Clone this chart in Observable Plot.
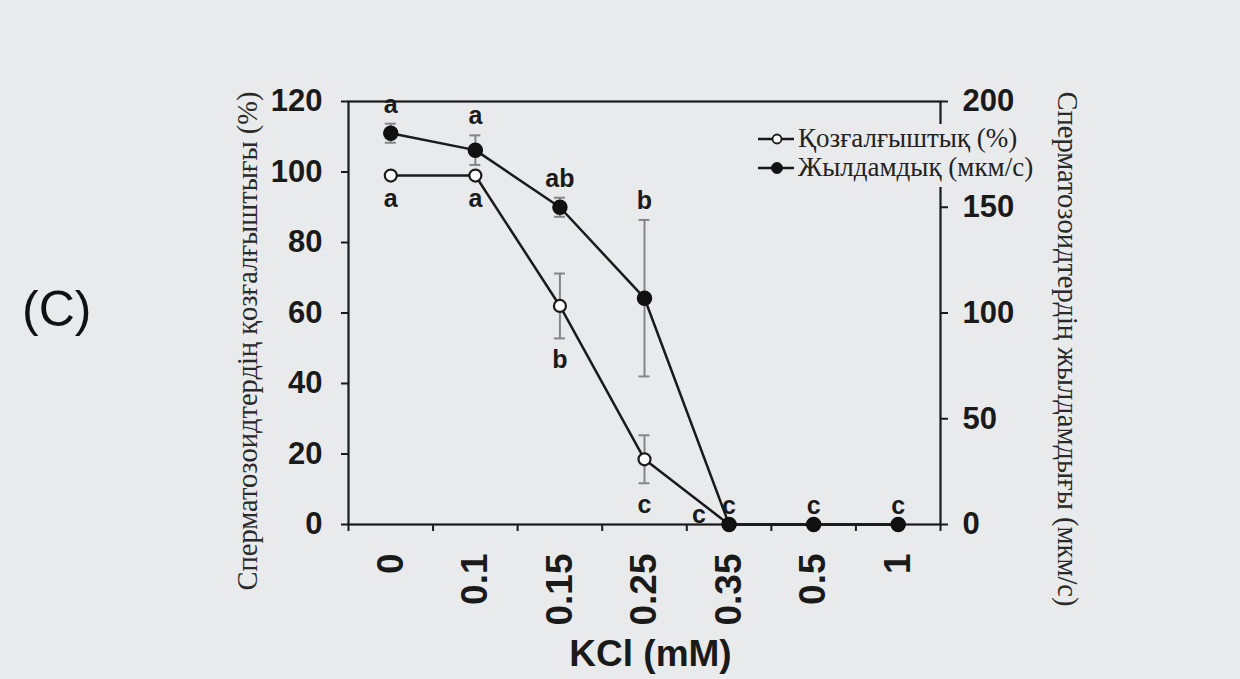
<!DOCTYPE html>
<html><head><meta charset="utf-8">
<script src="https://cdn.jsdelivr.net/npm/d3@7"></script>
<script src="https://cdn.jsdelivr.net/npm/@observablehq/plot@0.6"></script>
<style>
html,body{margin:0;padding:0;background:#e9eaec;}
#wrap{position:relative;width:1240px;height:679px;background:#e9eaec;overflow:hidden;}
#chart{position:absolute;left:0;top:0;}
#panel{position:absolute;left:22px;top:284px;font:50px "Liberation Sans",Arial,sans-serif;color:#111;line-height:1;}
#legend{position:absolute;left:756px;top:124px;width:280px;height:63px;background:#e9eaec;font:27px "Liberation Serif","Times New Roman",serif;color:#222;}
#legend .row{display:flex;align-items:center;height:29px;white-space:nowrap;}
#legend svg{margin-right:2px;flex:none;}
</style></head>
<body><div id="wrap"><div id="chart"></div><div id="panel">(C)</div><div id="legend"></div></div>
<script>
// ---- data ----
const kcl = ["0", "0.1", "0.15", "0.25", "0.35", "0.5", "1"];
const motility = [99, 99, 62, 18.5, 0, 0, 0];          // % (left axis)
const motilityErr = [0.5, 0.5, 9.2, 6.8, 0, 0, 0];
const velocity = [185, 177, 150, 107, 0, 0, 0];        // мкм/с (right axis)
const velocityErr = [4.5, 7, 4.5, 37, 0, 0, 0];
const motilityLetters = ["a", "a", "b", "c", "c", "", ""];
const velocityLetters = ["a", "a", "ab", "b", "c", "c", "c"];
const leftTicks = [0, 20, 40, 60, 80, 100, 120];
const rightTicks = [0, 50, 100, 150, 200];
const seriesNames = ["Қозғалғыштық (%)", "Жылдамдық (мкм/с)"];
const xTitle = "KCl (mM)";
const leftTitle = "Сперматозоидтердің қозғалғыштығы (%)";
const rightTitle = "Сперматозоидтердің жылдамдығы (мкм/с)";

const leftMax = 120, rightMax = 200;
const k = leftMax / rightMax; // maps right-axis values onto left scale

const rows = kcl.map((c, i) => ({
  i, c,
  m: motility[i], me: motilityErr[i],
  v: velocity[i] * k, ve: velocityErr[i] * k,
  ml: motilityLetters[i], vl: velocityLetters[i]
}));

const ink = "#1a1a1a";
const errC = "#858585";
const sans = "Liberation Sans, Arial, sans-serif";
const serif = "Liberation Serif, Times New Roman, serif";
const capW = 0.065;

const chart = Plot.plot({
  width: 1240, height: 679,
  marginLeft: 348, marginRight: 300, marginTop: 101, marginBottom: 155,
  style: {background: "transparent", fontFamily: sans, color: ink},
  x: {type: "linear", domain: [-0.5, kcl.length - 0.5], axis: null},
  y: {domain: [0, leftMax], axis: null},
  marks: [
    // error bars
    Plot.ruleX(rows.filter(d => d.me > 0.6), {x: "i", y1: d => d.m - d.me, y2: d => d.m + d.me, stroke: errC, strokeWidth: 2}),
    Plot.ruleY(rows.filter(d => d.me > 0.6), {y: d => d.m - d.me, x1: d => d.i - capW, x2: d => d.i + capW, stroke: errC, strokeWidth: 2}),
    Plot.ruleY(rows.filter(d => d.me > 0.6), {y: d => d.m + d.me, x1: d => d.i - capW, x2: d => d.i + capW, stroke: errC, strokeWidth: 2}),
    Plot.ruleX(rows.filter(d => d.ve > 0), {x: "i", y1: d => d.v - d.ve, y2: d => d.v + d.ve, stroke: errC, strokeWidth: 2}),
    Plot.ruleY(rows.filter(d => d.ve > 0), {y: d => d.v - d.ve, x1: d => d.i - capW, x2: d => d.i + capW, stroke: errC, strokeWidth: 2}),
    Plot.ruleY(rows.filter(d => d.ve > 0), {y: d => d.v + d.ve, x1: d => d.i - capW, x2: d => d.i + capW, stroke: errC, strokeWidth: 2}),
    // frame & axes
    Plot.frame({stroke: ink, strokeWidth: 2.2}),
    Plot.axisX(d3.range(kcl.length + 1).map(i => i - 0.5), {anchor: "bottom", tickSize: 7, tickFormat: () => "", stroke: ink, strokeWidth: 2, label: null}),
    Plot.axisX(d3.range(kcl.length), {anchor: "bottom", tickSize: 0, tickPadding: 29, tickFormat: i => kcl[i], tickRotate: -90, fontSize: 37, fontWeight: "bold", fill: ink, label: null}),
    Plot.axisY(leftTicks, {anchor: "left", tickSize: 7, tickPadding: 19, fontSize: 31, fontWeight: "bold", stroke: ink, strokeWidth: 2, fill: ink, label: null}),
    Plot.axisY(rightTicks.map(v => v * k), {anchor: "right", tickSize: 7, tickPadding: 15, tickFormat: d => Math.round(d / k), fontSize: 31, fontWeight: "bold", stroke: ink, strokeWidth: 2, fill: ink, label: null}),
    // series
    Plot.line(rows, {x: "i", y: "m", stroke: ink, strokeWidth: 2.5}),
    Plot.line(rows, {x: "i", y: "v", stroke: ink, strokeWidth: 2.5}),
    Plot.dot(rows, {x: "i", y: "m", r: 6, fill: "white", stroke: ink, strokeWidth: 2.2}),
    Plot.dot(rows, {x: "i", y: "v", r: 7, fill: "#111", stroke: "#111"}),
    // significance letters
    Plot.text(rows.filter(d => d.vl), {x: "i", y: d => d.v + d.ve, text: "vl", dy: -19, fontSize: 25, fontWeight: "bold", fill: ink}),
    Plot.text(rows.filter(d => d.ml && d.m > 0), {x: "i", y: d => d.m - d.me, text: "ml", dy: 22, fontSize: 25, fontWeight: "bold", fill: ink}),
    Plot.text(rows.filter(d => d.ml && d.m === 0), {x: "i", y: "m", text: "ml", dx: -30, dy: -10, fontSize: 25, fontWeight: "bold", fill: ink}),
    // axis titles
    Plot.text([xTitle], {frameAnchor: "bottom", textAnchor: "middle", lineAnchor: "middle", dx: 6, dy: 130, fontSize: 37, fontWeight: "bold", fill: ink}),
    Plot.text([leftTitle], {frameAnchor: "left", textAnchor: "middle", lineAnchor: "middle", rotate: -90, dx: -101, dy: 28, fontSize: 28.5, fontFamily: serif, fill: "#2a2a2a"}),
    Plot.text([rightTitle], {frameAnchor: "right", textAnchor: "middle", lineAnchor: "middle", rotate: 90, dx: 127, dy: 36, fontSize: 28.5, fontFamily: serif, fill: "#2a2a2a"})
  ]
});
document.getElementById("chart").appendChild(chart);

// legend
const legend = d3.select("#legend");
seriesNames.forEach((name, j) => {
  const row = legend.append("div").attr("class", "row");
  const svg = row.append("svg").attr("width", 40).attr("height", 20);
  svg.append("line").attr("x1", 2).attr("x2", 38).attr("y1", 10).attr("y2", 10).attr("stroke", ink).attr("stroke-width", 2.4);
  svg.append("circle").attr("cx", 21).attr("cy", 10).attr("r", j === 0 ? 4.5 : 5.5)
    .attr("fill", j === 0 ? "white" : "#111").attr("stroke", ink).attr("stroke-width", j === 0 ? 1.8 : 1);
  row.append("span").text(name);
});
</script>
</body></html>
